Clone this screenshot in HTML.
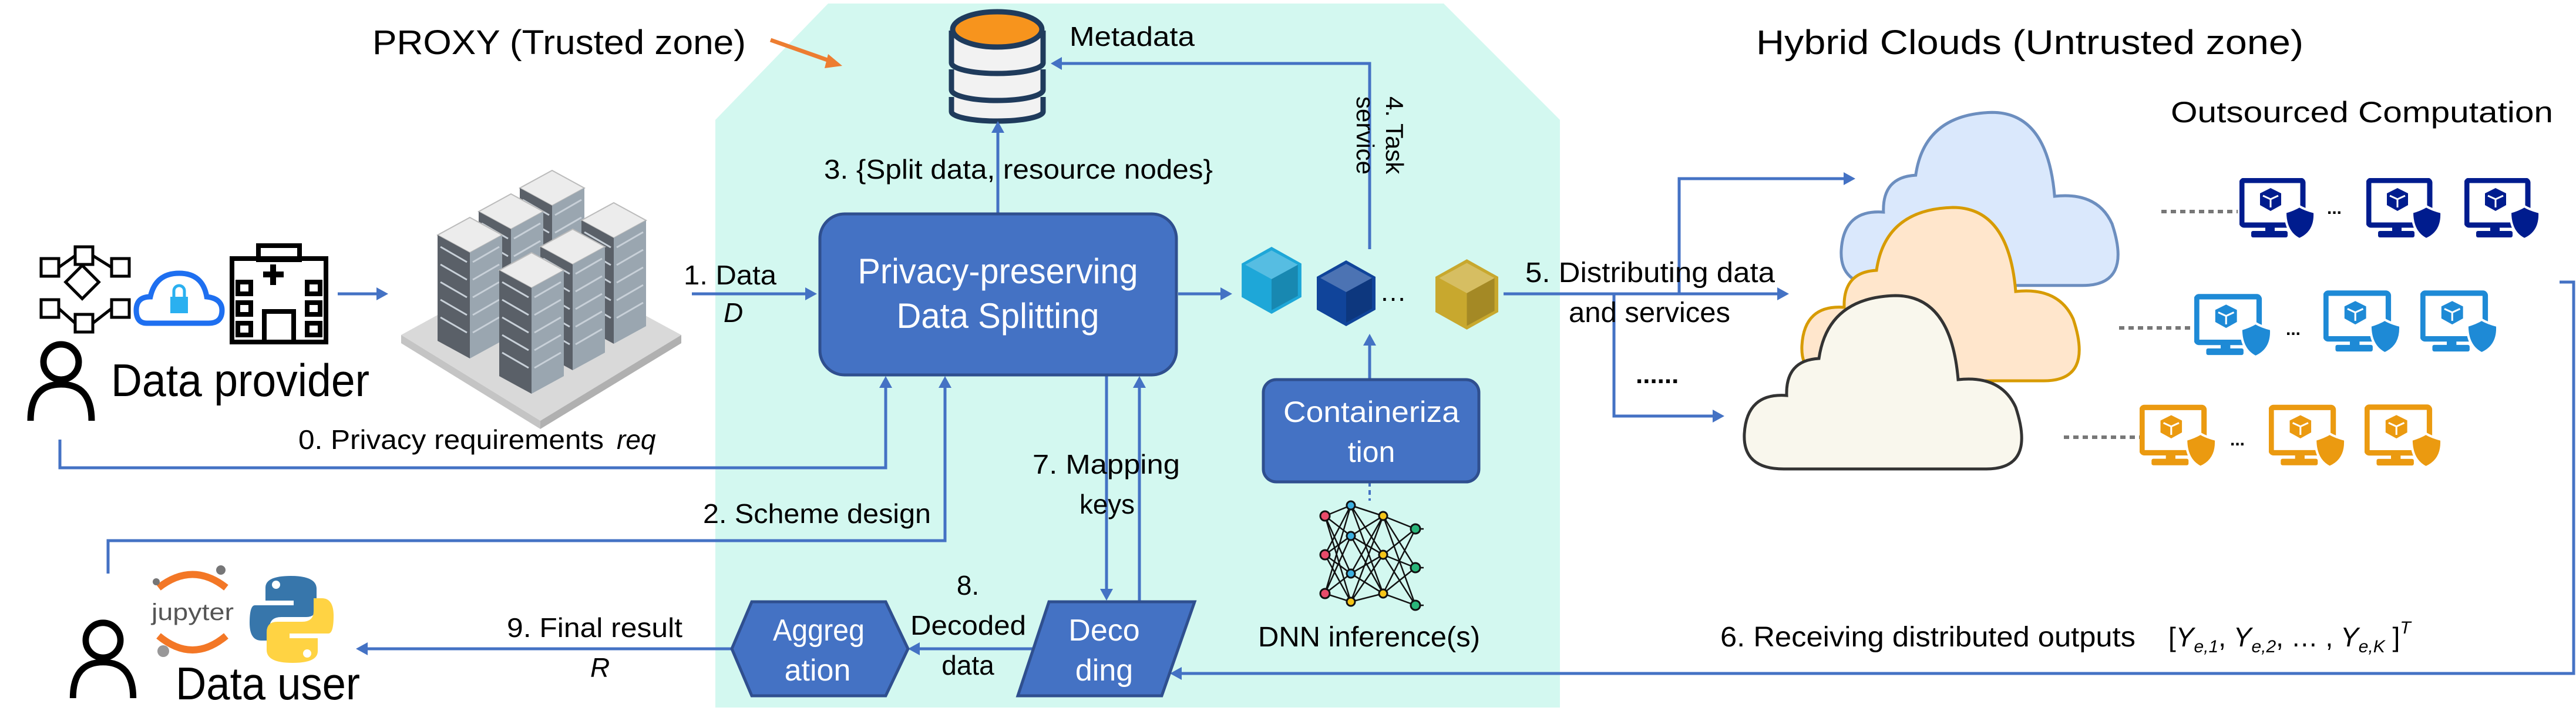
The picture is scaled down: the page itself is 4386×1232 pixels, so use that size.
<!DOCTYPE html>
<html><head><meta charset="utf-8"><style>
html,body{margin:0;padding:0;background:#fff;}
svg{display:block;}
text{font-family:"Liberation Sans",sans-serif;fill:#000;}
</style></head><body>
<svg width="4386" height="1232" viewBox="0 0 4386 1232" xmlns="http://www.w3.org/2000/svg">
<defs>
<symbol id="mon" viewBox="0 0 130 104">
<rect x="4" y="4" width="104" height="76" rx="4" fill="none" stroke="currentColor" stroke-width="9"/>
<rect x="44" y="80" width="16" height="12" fill="currentColor"/>
<rect x="20" y="90" width="62" height="11" rx="3" fill="currentColor"/>
<polygon points="53,17 71,26 71,46 53,56 35,46 35,26" fill="currentColor"/>
<path d="M40,30 L53,36 L66,30 M53,36 L53,50" stroke="#fff" stroke-width="3" fill="none"/>
<path d="M78,58 Q92,54 102,48 Q112,54 128,58 Q130,92 102,104 Q78,92 78,58 Z" fill="currentColor" stroke="#fff" stroke-width="4"/>
</symbol>
<symbol id="cube" viewBox="0 0 100 112">
<polygon points="50,0 100,28 100,84 50,112 0,84 0,28" fill="currentColor"/>
<polygon points="50,6 94,30 50,54 6,30" fill="#fff" opacity="0.25"/>
<polygon points="50,54 94,30 94,82 50,106" fill="#000" opacity="0.18"/>
</symbol>
<symbol id="person" viewBox="0 0 120 140">
<circle cx="60" cy="40" r="30" fill="none" stroke="#000" stroke-width="11"/>
<path d="M8,140 Q8,78 60,78 Q112,78 112,140" fill="none" stroke="#000" stroke-width="11"/>
</symbol>
<symbol id="cloud" viewBox="0 0 520 304">
<path d="M75,300 Q5,300 8,240 Q12,170 80,175 Q78,115 135,112 Q150,8 265,5 Q360,5 372,148 Q445,140 470,195 Q505,300 420,300 Z"/>
</symbol>
<g id="tower">
<polygon points="0,20 55,-10 110,20 55,50" fill="#ececec" stroke="#bbb" stroke-width="2"/>
<polygon points="0,20 55,50 55,230 0,200" fill="#5a6068"/>
<polygon points="55,50 110,20 110,200 55,230" fill="#9aa6b0"/>
<path d="M5,40 L50,66 M5,70 L50,96 M5,100 L50,126 M5,130 L50,156 M5,160 L50,186 M60,66 L105,40 M60,96 L105,70 M60,126 L105,100 M60,156 L105,130 M60,186 L105,160" stroke="#c8d0d8" stroke-width="3"/>
</g>
</defs>

<polygon points="1218,204 1410,6 2458,6 2656,204 2656,1204 1218,1204" fill="#d3f8f0"/>

<text x="634" y="92" font-size="58" textLength="636" lengthAdjust="spacingAndGlyphs">PROXY (Trusted zone)</text>
<text x="2990" y="92" font-size="58" textLength="932" lengthAdjust="spacingAndGlyphs">Hybrid Clouds (Untrusted zone)</text>
<text x="3696" y="208" font-size="50" textLength="651" lengthAdjust="spacingAndGlyphs">Outsourced Computation</text>

<line x1="1312" y1="68" x2="1420" y2="106" stroke="#ed7d31" stroke-width="7"/>
<polygon points="1434,112 1410,92 1404,116" fill="#ed7d31"/>

<g stroke="#1f3b5c" stroke-width="9" fill="#f2f2f2">
<path d="M1620,165 v25 a78,16 0 0 0 156,0 v-25"/>
<path d="M1620,118 v35 a78,18 0 0 0 156,0 v-35"/>
<path d="M1620,52 v55 a78,18 0 0 0 156,0 v-55"/>
<ellipse cx="1698" cy="50" rx="76" ry="30" fill="#f7941d"/>
</g>
<text x="1821" y="78" font-size="46" textLength="213" lengthAdjust="spacingAndGlyphs">Metadata</text>

<g stroke="#4472c4" stroke-width="5" fill="none">
<polyline points="2332,424 2332,108 1805,108"/>
<line x1="1699" y1="364" x2="1699" y2="222"/>
<line x1="575" y1="500" x2="645" y2="500"/>
<line x1="1178" y1="500" x2="1375" y2="500"/>
<line x1="2006" y1="500" x2="2082" y2="500"/>
<line x1="2560" y1="500" x2="3030" y2="500"/>
<polyline points="2859,500 2859,304 3143,304"/>
<polyline points="2748,500 2748,708 2920,708"/>
<line x1="2332" y1="646" x2="2332" y2="584"/>
<polyline points="102,748 102,796 1508,796 1508,656"/>
<polyline points="184,976 184,920 1609,920 1609,656"/>
<line x1="1884" y1="638" x2="1884" y2="1006"/>
<line x1="1940" y1="1024" x2="1940" y2="656"/>
<line x1="1761" y1="1104" x2="1562" y2="1104"/>
<line x1="1246" y1="1104" x2="622" y2="1104"/>
<polyline points="4358,480 4382,480 4382,1146 2008,1146"/>
</g>
<line x1="2332" y1="820" x2="2332" y2="852" stroke="#4472c4" stroke-width="4" stroke-dasharray="8,6"/>
<g fill="#4472c4">
<polygon points="1789,108 1808,97 1808,119"/>
<polygon points="1699,206 1688,226 1710,226"/>
<polygon points="661,500 641,489 641,511"/>
<polygon points="1391,500 1371,489 1371,511"/>
<polygon points="2098,500 2078,489 2078,511"/>
<polygon points="3046,500 3026,489 3026,511"/>
<polygon points="3159,304 3139,293 3139,315"/>
<polygon points="2936,708 2916,697 2916,719"/>
<polygon points="2332,568 2321,588 2343,588"/>
<polygon points="1508,640 1497,660 1519,660"/>
<polygon points="1609,640 1598,660 1620,660"/>
<polygon points="1884,1022 1873,1002 1895,1002"/>
<polygon points="1940,640 1929,660 1951,660"/>
<polygon points="1546,1104 1566,1093 1566,1115"/>
<polygon points="606,1104 626,1093 626,1115"/>
<polygon points="1992,1146 2012,1135 2012,1157"/>
</g>

<rect x="1396" y="364" width="607" height="274" rx="42" fill="#4472c4" stroke="#2f4f8f" stroke-width="5"/>
<text x="1699" y="482" font-size="60" style="fill:#fff" text-anchor="middle" textLength="477" lengthAdjust="spacingAndGlyphs">Privacy-preserving</text>
<text x="1699" y="558" font-size="60" style="fill:#fff" text-anchor="middle" textLength="345" lengthAdjust="spacingAndGlyphs">Data Splitting</text>

<rect x="2151" y="646" width="367" height="174" rx="22" fill="#4472c4" stroke="#2f4f8f" stroke-width="5"/>
<text x="2335" y="718" font-size="50" style="fill:#fff" text-anchor="middle" textLength="300" lengthAdjust="spacingAndGlyphs">Containeriza</text>
<text x="2335" y="786" font-size="50" style="fill:#fff" text-anchor="middle">tion</text>

<polygon points="1786,1024 2034,1024 1978,1184 1733,1184" fill="#4472c4" stroke="#2f4f8f" stroke-width="5"/>
<text x="1880" y="1090" font-size="52" style="fill:#fff" text-anchor="middle">Deco</text>
<text x="1880" y="1158" font-size="52" style="fill:#fff" text-anchor="middle">ding</text>
<polygon points="1246,1104 1280,1024 1508,1024 1546,1104 1508,1184 1280,1184" fill="#4472c4" stroke="#2f4f8f" stroke-width="5"/>
<text x="1394" y="1090" font-size="52" style="fill:#fff" text-anchor="middle" textLength="156" lengthAdjust="spacingAndGlyphs">Aggreg</text>
<text x="1392" y="1158" font-size="52" style="fill:#fff" text-anchor="middle">ation</text>

<use href="#cube" x="2112" y="420" width="106" height="114" style="color:#1ea7d8"/>
<use href="#cube" x="2242" y="442" width="100" height="114" style="color:#10449a"/>
<text x="2372" y="512" font-size="46" text-anchor="middle">…</text>
<use href="#cube" x="2444" y="438" width="107" height="126" style="color:#c8a82e"/>

<!-- NN icon -->
<g stroke="#111" stroke-width="2.5">
<path d="M2256,878 L2300,860 M2256,878 L2300,912 M2256,878 L2300,976 M2256,878 L2300,1024
M2256,944 L2300,860 M2256,944 L2300,912 M2256,944 L2300,976 M2256,944 L2300,1024
M2256,1010 L2300,860 M2256,1010 L2300,912 M2256,1010 L2300,976 M2256,1010 L2300,1024
M2300,860 L2355,878 M2300,860 L2355,944 M2300,860 L2355,1010
M2300,912 L2355,878 M2300,912 L2355,944 M2300,912 L2355,1010
M2300,976 L2355,878 M2300,976 L2355,944 M2300,976 L2355,1010
M2300,1024 L2355,878 M2300,1024 L2355,944 M2300,1024 L2355,1010
M2355,878 L2410,900 M2355,878 L2410,966 M2355,878 L2410,1030
M2355,944 L2410,900 M2355,944 L2410,966 M2355,944 L2410,1030
M2355,1010 L2410,900 M2355,1010 L2410,966 M2355,1010 L2410,1030
M2410,900 h14 M2410,966 h14 M2410,1030 h14"/>
</g>
<g stroke="#111" stroke-width="3">
<circle cx="2256" cy="878" r="8" fill="#e94b6a"/><circle cx="2256" cy="944" r="8" fill="#e94b6a"/><circle cx="2256" cy="1010" r="8" fill="#e94b6a"/>
<circle cx="2300" cy="860" r="7" fill="#3cb0e0"/><circle cx="2300" cy="912" r="7" fill="#3cb0e0"/><circle cx="2300" cy="976" r="7" fill="#3cb0e0"/><circle cx="2300" cy="1024" r="7" fill="#f5c518"/>
<circle cx="2355" cy="878" r="7" fill="#f5c518"/><circle cx="2355" cy="944" r="7" fill="#f5c518"/><circle cx="2355" cy="1010" r="7" fill="#f5c518"/>
<circle cx="2410" cy="900" r="8" fill="#2ab67a"/><circle cx="2410" cy="966" r="8" fill="#2ab67a"/><circle cx="2410" cy="1030" r="8" fill="#2ab67a"/>
</g>
<text x="2142" y="1100" font-size="48" textLength="378" lengthAdjust="spacingAndGlyphs">DNN inference(s)</text>

<text x="1164" y="484" font-size="46" textLength="158" lengthAdjust="spacingAndGlyphs">1. Data</text>
<text x="1232" y="548" font-size="46" font-style="italic" font-family="Liberation Serif">D</text>
<text x="1403" y="304" font-size="46" textLength="662" lengthAdjust="spacingAndGlyphs">3. {Split data, resource nodes}</text>
<text transform="translate(2360,164) rotate(90)" font-size="42">4. Task</text>
<text transform="translate(2310,164) rotate(90)" font-size="42">service</text>
<text x="2597" y="480" font-size="48" textLength="425" lengthAdjust="spacingAndGlyphs">5. Distributing data</text>
<text x="2671" y="548" font-size="48" textLength="275" lengthAdjust="spacingAndGlyphs">and services</text>
<text x="2785" y="652" font-size="44" font-weight="bold">......</text>
<text x="508" y="764" font-size="46" textLength="520" lengthAdjust="spacingAndGlyphs">0. Privacy requirements</text>
<text x="1050" y="764" font-size="46" font-style="italic" font-family="Liberation Serif">req</text>
<text x="1197" y="890" font-size="46" textLength="388" lengthAdjust="spacingAndGlyphs">2. Scheme design</text>
<text x="1758" y="806" font-size="46" textLength="251" lengthAdjust="spacingAndGlyphs">7. Mapping</text>
<text x="1838" y="874" font-size="46" textLength="94" lengthAdjust="spacingAndGlyphs">keys</text>
<text x="1648" y="1012" font-size="46" text-anchor="middle">8.</text>
<text x="1550" y="1080" font-size="46" textLength="197" lengthAdjust="spacingAndGlyphs">Decoded</text>
<text x="1648" y="1148" font-size="46" text-anchor="middle">data</text>
<text x="863" y="1084" font-size="46" textLength="299" lengthAdjust="spacingAndGlyphs">9. Final result</text>
<text x="1005" y="1152" font-size="46" font-style="italic" font-family="Liberation Serif">R</text>
<text x="2929" y="1100" font-size="48" textLength="707" lengthAdjust="spacingAndGlyphs">6. Receiving distributed outputs</text>
<text x="3692" y="1100" font-size="46" font-family="Liberation Serif"><tspan>[</tspan><tspan font-style="italic">Y</tspan><tspan font-size="30" font-style="italic" dy="10">e,1</tspan><tspan dy="-10">, </tspan><tspan font-style="italic">Y</tspan><tspan font-size="30" font-style="italic" dy="10">e,2</tspan><tspan dy="-10">, … , </tspan><tspan font-style="italic">Y</tspan><tspan font-size="30" font-style="italic" dy="10">e,K</tspan><tspan dy="-10"> ]</tspan><tspan font-size="30" font-style="italic" dy="-22">T</tspan></text>

<use href="#person" x="42" y="576" width="124" height="140"/>
<text x="189" y="674" font-size="78" textLength="440" lengthAdjust="spacingAndGlyphs">Data provider</text>
<g fill="none" stroke="#000" stroke-width="5">
<rect x="120" y="460" width="40" height="40" transform="rotate(45 140 480)"/>
<rect x="128" y="420" width="30" height="30"/><rect x="70" y="440" width="30" height="30"/><rect x="190" y="440" width="30" height="30"/>
<rect x="70" y="510" width="30" height="30"/><rect x="190" y="510" width="30" height="30"/><rect x="128" y="535" width="30" height="30"/>
<path d="M100,455 L128,435 M158,435 L190,455 M100,525 L128,550 M158,550 L190,525"/>
</g>
<path d="M250,550 Q232,550 232,528 Q232,505 256,505 Q265,465 305,465 Q345,465 352,505 Q378,508 378,528 Q378,550 355,550 Z" fill="none" stroke="#1e6ff0" stroke-width="9"/>
<rect x="290" y="505" width="30" height="28" fill="#2ab0f0"/><path d="M296,505 v-10 a9,9 0 0 1 18,0 v10" fill="none" stroke="#2ab0f0" stroke-width="5"/>
<g fill="none" stroke="#000" stroke-width="8">
<rect x="395" y="440" width="160" height="142"/><rect x="440" y="418" width="70" height="24"/>
<path d="M465,450 v35 M448,467 h35" stroke-width="10"/>
<rect x="405" y="480" width="22" height="20"/><rect x="405" y="515" width="22" height="20"/><rect x="405" y="550" width="22" height="20"/>
<rect x="523" y="480" width="22" height="20"/><rect x="523" y="515" width="22" height="20"/><rect x="523" y="550" width="22" height="20"/>
<rect x="450" y="530" width="50" height="52"/>
</g>

<!-- servers -->
<polygon points="683,570 920,440 1160,570 920,716" fill="#d9d9d9"/>
<polygon points="683,570 920,716 920,730 683,584" fill="#c4c4c4"/>
<polygon points="920,716 1160,570 1160,584 920,730" fill="#b0b0b0"/>
<use href="#tower" x="885" y="300"/>
<use href="#tower" x="815" y="340"/>
<use href="#tower" x="990" y="355"/>
<use href="#tower" x="745" y="380"/>
<use href="#tower" x="920" y="400"/>
<use href="#tower" x="850" y="440"/>

<use href="#person" x="115" y="1050" width="121" height="138"/>
<text x="299" y="1190" font-size="78" textLength="314" lengthAdjust="spacingAndGlyphs">Data user</text>
<path d="M270,1000 Q328,955 385,1000" fill="none" stroke="#f37726" stroke-width="12"/>
<path d="M270,1082 Q328,1130 385,1082" fill="none" stroke="#f37726" stroke-width="12"/>
<text x="258" y="1055" font-size="40" textLength="140" lengthAdjust="spacingAndGlyphs" style="fill:#555">jupyter</text>
<circle cx="376" cy="970" r="8" fill="#767677"/><circle cx="266" cy="990" r="6" fill="#767677"/><circle cx="278" cy="1108" r="10" fill="#989798"/>
<path d="M495,980 Q452,980 452,1000 v22 h48 v8 h-66 Q425,1030 425,1060 Q425,1090 445,1090 h14 v-22 q0,-18 20,-18 h42 q18,0 18,-18 v-30 Q539,980 495,980 Z" fill="#3776ab"/>
<path d="M498,1128 Q541,1128 541,1108 v-22 h-48 v-8 h66 Q568,1078 568,1048 Q568,1018 548,1018 h-14 v22 q0,18 -20,18 h-42 q-18,0 -18,18 v30 Q454,1128 498,1128 Z" fill="#ffd343"/>
<circle cx="470" cy="995" r="7" fill="#fff"/><circle cx="523" cy="1112" r="7" fill="#fff"/>

<use href="#cloud" x="3127" y="186" width="519" height="304" fill="#dae8fc" stroke="#6c8ebf" stroke-width="5"/>
<use href="#cloud" x="3060" y="348" width="520" height="304" fill="#ffe6cc" stroke="#d79b00" stroke-width="5"/>
<use href="#cloud" x="2962" y="498" width="520" height="304" fill="#f9f7ed" stroke="#333" stroke-width="5"/>

<g stroke="#777" stroke-width="6" stroke-dasharray="9,7">
<line x1="3680" y1="360" x2="3810" y2="360"/>
<line x1="3608" y1="558" x2="3733" y2="558"/>
<line x1="3514" y1="744" x2="3643" y2="744"/>
</g>
<g style="color:#001c8e">
<use href="#mon" x="3813" y="303" width="130" height="104"/>
<use href="#mon" x="4029" y="303" width="130" height="104"/>
<use href="#mon" x="4196" y="303" width="130" height="104"/>
</g>
<g style="color:#1e8ad6">
<use href="#mon" x="3736" y="498" width="133" height="112"/>
<use href="#mon" x="3956" y="492" width="133" height="112"/>
<use href="#mon" x="4121" y="492" width="133" height="112"/>
</g>
<g style="color:#eb9a10">
<use href="#mon" x="3643" y="688" width="132" height="108"/>
<use href="#mon" x="3863" y="688" width="132" height="108"/>
<use href="#mon" x="4026" y="688" width="133" height="108"/>
</g>
<g font-size="30" font-weight="bold">
<text x="3962" y="364">...</text>
<text x="3892" y="570">...</text>
<text x="3797" y="758">...</text>
</g>
</svg>
</body></html>
